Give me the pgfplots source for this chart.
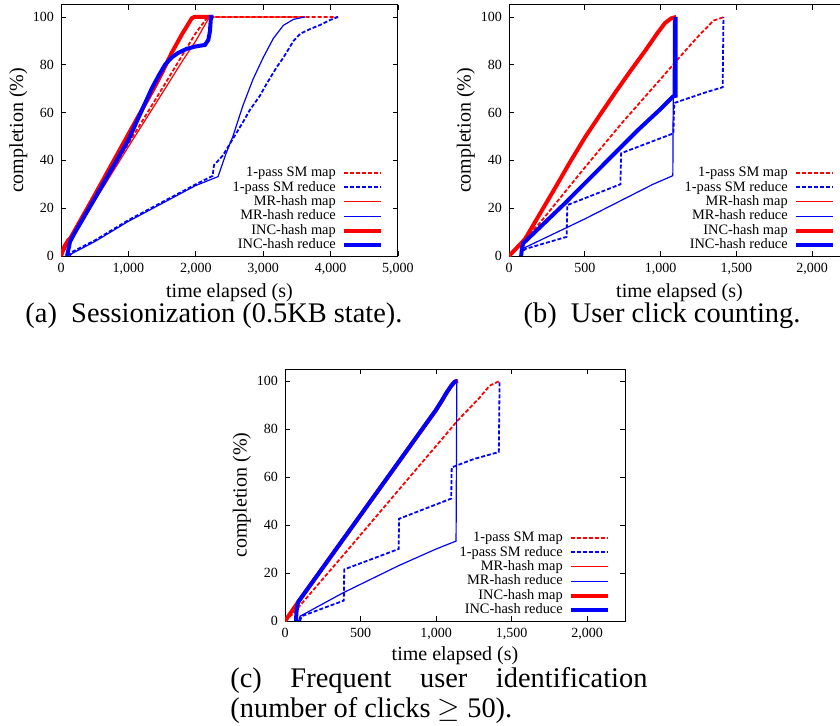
\documentclass[border=0pt]{standalone}
\usepackage{fontspec}
\setmainfont{Liberation Serif}
\usepackage{pgfplots}
\pgfplotsset{compat=1.18}

\definecolor{gpred}{RGB}{255,0,0}
\definecolor{gpblue}{RGB}{0,0,255}

\pgfplotsset{
  gp/.style={
    scale only axis, anchor=south west,
    ymin=0, ymax=105, ytick={0,20,...,100},
    xmin=0, scaled x ticks=false,
    tick align=inside, major tick length=2.5pt,
    axis line style={line width=0.5pt}, every tick/.style={black,line width=0.4pt},
    /pgf/number format/assume math mode=true,
    /pgf/number format/1000 sep={,},
    tick label style={font=\fontsize{7}{8}\selectfont},
    label style={font=\fontsize{8.5}{10}\selectfont, inner sep=0pt},
    xlabel={time elapsed (s)}, ylabel={completion (\%)},
    every axis x label/.style={at={(axis description cs:0.5,-0.148)}, anchor=center},
    every axis y label/.style={at={(axis description cs:-0.127,0.5)}, anchor=center, rotate=90},
    legend plot pos=right, legend cell align=right,
    legend style={font=\fontsize{7.2}{8}\selectfont, draw=none, fill=none,
      at={(axis description cs:0.974,0.0)}, anchor=south east,
      nodes={inner sep=0pt, text height=5.2pt, text depth=1.5pt},
      row sep=0.5pt, column sep=3pt},
    legend image code/.code={\draw[##1,line cap=butt] (0pt,0pt) -- (18.5pt,0pt);},
  },
  smmap/.style={color=gpred, line width=0.9pt, dash pattern=on 2pt off 1pt},
  smred/.style={color=gpblue, line width=0.9pt, dash pattern=on 2pt off 1pt},
  mrmap/.style={color=gpred, line width=0.6pt},
  mrred/.style={color=gpblue, line width=0.6pt},
  incmap/.style={color=gpred, line width=2pt},
  incred/.style={color=gpblue, line width=2pt},
}
\tikzset{capt/.style={font=\fontsize{14.2}{16}\selectfont, inner sep=0pt, text height=9.5pt, text depth=2.5pt}}

\begin{document}
\begin{tikzpicture}
\useasboundingbox (0pt,0pt) rectangle (420pt,362.5pt);

% (a) Sessionization
\begin{axis}[gp, at={(30.5pt,234.5pt)}, width=168.5pt, height=125.5pt,
  xmax=5000, xtick={0,1000,...,5000}]
\addplot[smmap] coordinates {(0,0)(100,5)(500,24)(1000,47)(1500,70)(1800,84)(2000,93.3)(2150,99)(2210,100)(4110,100)};
\addlegendentry{1-pass SM map}
\addplot[smred] coordinates {(100,0)(150,1.5)(500,6.5)(1000,15)(1500,22.5)(2000,30)(2250,33.5)(2270,38)(2400,42)(2550,49)(2700,56)(2800,61)(2950,67)(3050,72)(3200,79)(3300,83)(3450,90)(3550,93)(3700,95)(3850,96.7)(4000,98.8)(4110,100)};
\addlegendentry{1-pass SM reduce}
\addplot[mrmap] coordinates {(0,0)(100,5)(500,23)(1000,45.7)(1500,68)(1800,81.5)(2000,90)(2190,99.4)(2260,100)(3620,100)};
\addlegendentry{MR-hash map}
\addplot[mrred] coordinates {(130,0)(160,1)(500,6)(1000,14.5)(1500,22)(2000,29.5)(2330,33.2)(2450,43)(2550,50)(2700,63)(2850,74)(3000,83)(3150,91)(3300,96.5)(3450,99)(3620,100)};
\addlegendentry{MR-hash reduce}
\addplot[incmap] coordinates {(0,0)(50,4)(109,6.7)(140,7.5)(200,10.5)(500,25.5)(1000,51)(1395,71)(1500,76.7)(1642,85)(1800,93)(1939,99.4)(1980,100)(2250,100)};
\addlegendentry{INC-hash map}
\addplot[incred] coordinates {(90,0)(134,6)(200,9.5)(500,24)(1000,48.5)(1345,70)(1450,75.5)(1543,80)(1640,83)(1741,85)(1860,86.6)(1988,87.6)(2136,88.3)(2186,90.4)(2210,94)(2225,100)(2260,100)};
\addlegendentry{INC-hash reduce}
\end{axis}

% (b) User click counting
\begin{axis}[gp, at={(254.5pt,234.5pt)}, width=170.5pt, height=125.5pt,
  xmax=2250, xtick={0,500,...,2000}]
\addplot[smmap] coordinates {(0,0)(50,3.5)(100,7)(193,13)(500,37)(750,56)(1000,74)(1158,85.5)(1250,92)(1350,98.5)(1420,100)};
\addlegendentry{1-pass SM map}
\addplot[smred] coordinates {(80,0)(90,2)(110,3)(380,8)(385,21.3)(735,30)(740,43)(1085,51.3)(1090,64)(1300,68.5)(1410,70.6)(1415,100)};
\addlegendentry{1-pass SM reduce}
\addplot[mrmap] coordinates {(0,0)(105,7)(193,16.5)(300,28)(400,39)(500,49.5)(600,59)(700,68.3)(800,77.3)(900,86)(982,93.5)(1030,97.5)(1070,99.4)(1100,100)};
\addlegendentry{MR-hash map}
\addplot[mrred] coordinates {(80,0)(94,3.2)(500,15.5)(950,30)(1081,33.6)(1086,100)};
\addlegendentry{MR-hash reduce}
\addplot[incmap] coordinates {(0,0)(105,7)(193,16.5)(300,28)(400,39)(500,49.5)(600,59)(700,68.3)(800,77.3)(900,86)(982,93.5)(1030,97.5)(1070,99.4)(1103,100)};
\addlegendentry{INC-hash map}
\addplot[incred] coordinates {(80,0)(85,3)(94,5.3)(368,22)(500,30.4)(851,52.7)(1000,61.5)(1081,66.7)(1100,67)(1100,100)};
\addlegendentry{INC-hash reduce}
\end{axis}

% (c) Frequent user identification
\begin{axis}[gp, at={(142.5pt,52pt)}, width=170pt, height=126pt,
  xmax=2250, xtick={0,500,...,2000},
  every axis x label/.style={at={(axis description cs:0.5,-0.136)}, anchor=center}]
\addplot[smmap] coordinates {(0,0)(55,3.2)(407,29)(1145,83.7)(1287,93)(1353,98)(1420,100)};
\addlegendentry{1-pass SM map}
\addplot[smred] coordinates {(99,0)(110,2)(389,8.5)(392,21.5)(752,30)(755,42.6)(1100,51)(1103,64)(1250,67.5)(1415,70.4)(1420,100)};
\addlegendentry{1-pass SM reduce}
\addplot[mrmap] coordinates {(0,0)(88,8)(1000,88)(1040,92)(1068,95)(1100,98)(1123,99.7)(1145,100)};
\addlegendentry{MR-hash map}
\addplot[mrred] coordinates {(90,0)(100,2)(383,11.7)(750,23)(1000,30)(1132,33.3)(1137,100)};
\addlegendentry{MR-hash reduce}
\addplot[incmap] coordinates {(0,0)(88,8)(1000,88)(1040,92)(1068,95)(1100,98)(1123,99.7)(1145,100)};
\addlegendentry{INC-hash map}
\addplot[incred] coordinates {(73,0)(75,3)(80,6)(88,8)(1000,88)(1040,92)(1068,95)(1100,98)(1123,99.7)(1140,100)};
\addlegendentry{INC-hash reduce}
\end{axis}

\node[capt] at (107pt,205pt) {(a)\ \ Sessionization (0.5KB state).};
\node[capt] at (331pt,205pt) {(b)\ \ User click counting.};
\node[capt, anchor=west] at (115pt,22.5pt) {\makebox[208.5pt][s]{(c) Frequent user identification}};
\node[capt, anchor=west] at (115pt,7.5pt) {(number of clicks $\geq$ 50).};
\end{tikzpicture}
\end{document}
